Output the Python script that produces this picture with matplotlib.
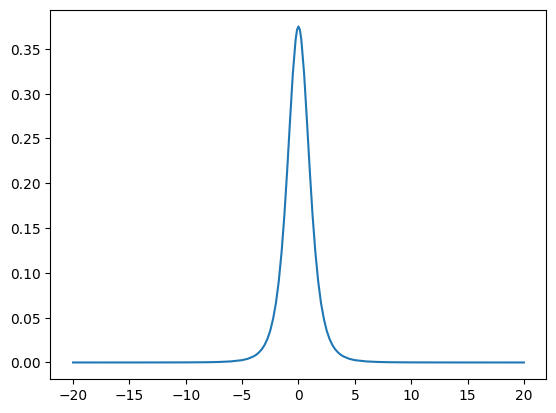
import matplotlib
matplotlib.use("Agg")
import matplotlib.pyplot as plt

# values (right half, the curve is symmetric)
x_right = [0.0, 0.125, 0.25, 0.5, 0.75, 1.0, 1.25, 1.5, 1.75, 2.0, 2.25, 2.5,
           2.75, 3.0, 3.25, 3.5, 3.75, 4.0, 4.5, 5.0, 6.0, 7.0, 8.0, 10.0,
           12.5, 15.0, 20.0]
y_right = [0.375, 0.3714, 0.3607, 0.3223, 0.2699, 0.2147, 0.1644, 0.1229,
           0.0905, 0.0663, 0.0488, 0.0357, 0.0264, 0.0197, 0.0148, 0.0113,
           0.0086, 0.0067, 0.0041, 0.0026, 0.0012, 0.0006, 0.0003, 0.0001,
           0.00004, 0.000015, 0.000004]

x_vals = [-v for v in x_right[:0:-1]] + x_right
y_vals = y_right[:0:-1] + y_right

fig, ax = plt.subplots(figsize=(6.4, 4.8), dpi=100)
ax.plot(x_vals, y_vals)

fig.savefig("out.png", bbox_inches="tight")
